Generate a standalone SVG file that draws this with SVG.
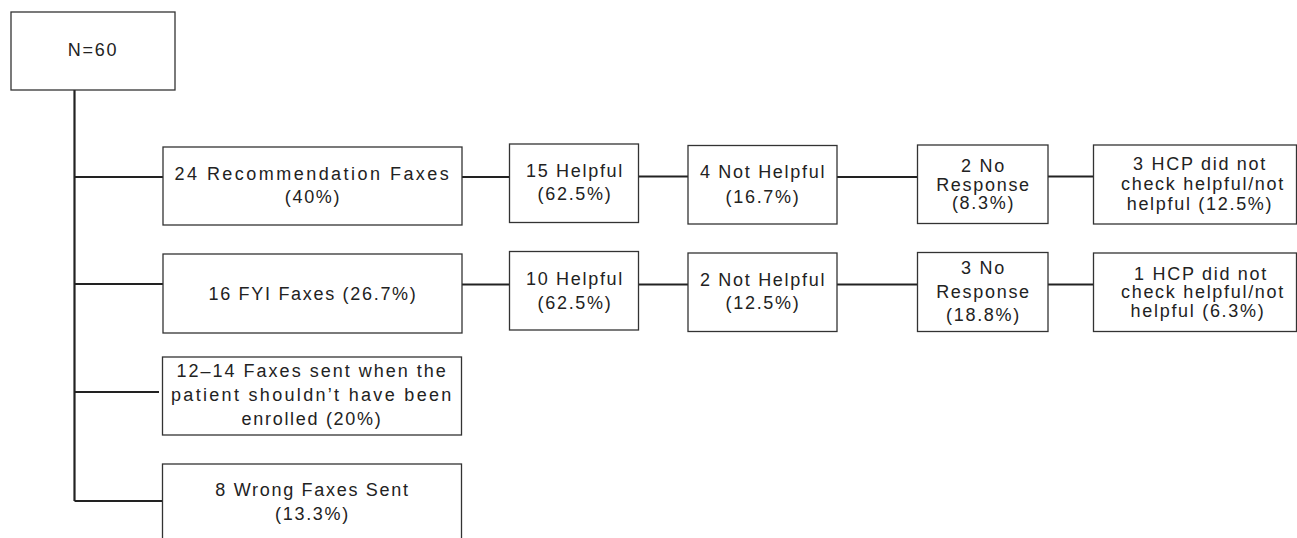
<svg xmlns="http://www.w3.org/2000/svg" width="1297" height="538" viewBox="0 0 1297 538">
<style>
.box{fill:#fff;stroke:#333;stroke-width:1.3}
.c{fill:none;stroke:#222;stroke-width:2.2}
text{font-family:"Liberation Sans",Arial,Helvetica,sans-serif;font-size:18px;letter-spacing:1.7px;fill:#222;text-anchor:middle}
</style>
<rect width="1297" height="538" fill="#fff"/>
<g id="connectors">
<path class="c" d="M74.5 90 V501"/>
<path class="c" d="M74.5 177 H163 M74.5 284 H163 M74.5 392 H159 M74.5 501 H162.5"/>
<path class="c" d="M462 177 H509.5 M638.5 176.5 H688 M837 177 H917.5 M1048 176.5 H1093.5"/>
<path class="c" d="M462 284.5 H509.5 M638.5 284.5 H688 M837 284.5 H917.5 M1048 284.5 H1093.5"/>
</g>
<g id="n0"><rect class="box" x="11" y="12" width="164" height="78"/><text x="93" y="56">N=60</text></g>
<g id="r1"><rect class="box" x="163" y="147" width="299" height="78"/><text x="312.5" y="180" textLength="276" lengthAdjust="spacing">24 Recommendation Faxes</text><text x="313" y="202.5">(40%)</text></g>
<g id="r2"><rect class="box" x="163" y="254" width="299" height="79"/><text x="313" y="299.5">16 FYI Faxes (26.7%)</text></g>
<g id="r3"><rect class="box" x="162.5" y="357" width="299" height="78"/><text x="312" y="377" textLength="271" lengthAdjust="spacing">12–14 Faxes sent when the</text><text x="312" y="401" textLength="282" lengthAdjust="spacing">patient shouldn’t have been</text><text x="312" y="425">enrolled (20%)</text></g>
<g id="r4"><rect class="box" x="162.5" y="464" width="299" height="90"/><text x="312.5" y="496">8 Wrong Faxes Sent</text><text x="312.5" y="519.5">(13.3%)</text></g>
<g id="a1"><rect class="box" x="509.5" y="144" width="129" height="78.5"/><text x="575" y="176.5">15 Helpful</text><text x="575" y="200">(62.5%)</text></g>
<g id="b1"><rect class="box" x="688" y="145.5" width="149" height="78.5"/><text x="763" y="178">4 Not Helpful</text><text x="763" y="203">(16.7%)</text></g>
<g id="c1"><rect class="box" x="917.5" y="145" width="130.5" height="78.5"/><text x="983.5" y="171.5">2 No</text><text x="983.5" y="190.5">Response</text><text x="983.5" y="208.5">(8.3%)</text></g>
<g id="d1"><rect class="box" x="1093.5" y="145" width="203" height="79"/><text x="1200" y="169.5">3 HCP did not</text><text x="1203" y="190">check helpful/not</text><text x="1200" y="210">helpful (12.5%)</text></g>
<g id="a2"><rect class="box" x="509.5" y="251.5" width="129" height="78.5"/><text x="575" y="285">10 Helpful</text><text x="575" y="308.5">(62.5%)</text></g>
<g id="b2"><rect class="box" x="688" y="253" width="149" height="78.5"/><text x="763" y="285.5">2 Not Helpful</text><text x="763" y="309">(12.5%)</text></g>
<g id="c2"><rect class="box" x="917.5" y="252.5" width="130.5" height="79"/><text x="983.5" y="273.5">3 No</text><text x="983.5" y="297.5">Response</text><text x="983.5" y="321">(18.8%)</text></g>
<g id="d2"><rect class="box" x="1093.5" y="253" width="203" height="78.5"/><text x="1201" y="280">1 HCP did not</text><text x="1203" y="298">check helpful/not</text><text x="1198" y="316.5">helpful (6.3%)</text></g>
</svg>
